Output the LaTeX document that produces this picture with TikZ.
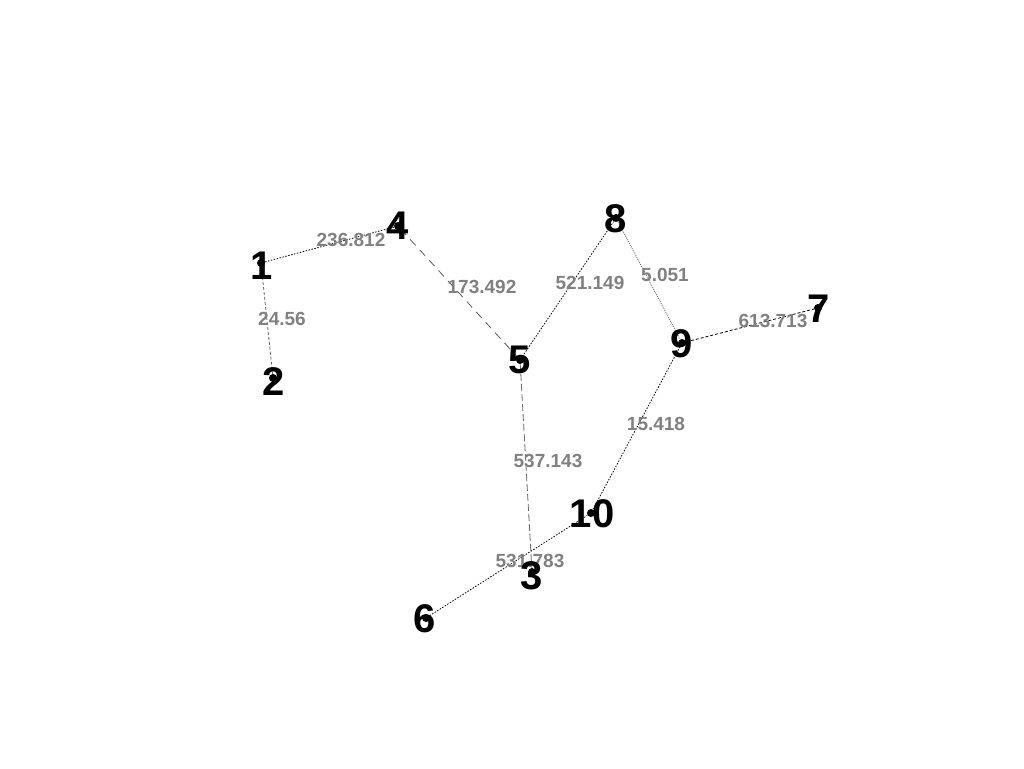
\documentclass[tikz,border=0pt]{standalone}
\usepackage{fontspec}
\setmainfont{Liberation Sans}
\begin{document}
\begin{tikzpicture}[x=1pt,y=-1pt,
  dot/.style={circle,fill=black,inner sep=0pt,minimum size=8pt},
  num/.style={font=\fontsize{40}{40}\selectfont\bfseries,inner sep=0pt,text=black},
  wlbl/.style={font=\fontsize{19}{19}\selectfont\bfseries,text=black!50,inner sep=0pt},
  dotblk/.style={line width=0.8pt,black,dash pattern=on 1.5pt off 1.5pt},
  dotgray/.style={line width=0.8pt,black!60,dash pattern=on 1pt off 1pt},
  dashshort/.style={line width=0.8pt,black!60,dash pattern=on 3pt off 2pt},
  dashlong/.style={line width=0.8pt,black!65,dash pattern=on 8pt off 6pt},
  dashmid/.style={line width=0.8pt,black!60,dash pattern=on 7pt off 3pt},
  dashblk/.style={line width=0.8pt,black,dash pattern=on 3pt off 2pt}]
\useasboundingbox (0,0) rectangle (1024,768);
% dots
\node[dot] (n1) at (261,263) {};
\node[dot] (n2) at (273,378) {};
\node[dot] (n3) at (532,572) {};
\node[dot] (n4) at (398,226) {};
\node[dot] (n5) at (520,360) {};
\node[dot] (n6) at (426,618) {};
\node[dot] (n7) at (818,308) {};
\node[dot] (n8) at (616,218) {};
\node[dot] (n9) at (682,343) {};
\node[dot] (n10) at (591,513) {};
% edges
\draw[dotblk] (n1) -- node[wlbl,xshift=21.5pt,yshift=4.5pt] (w14) {236.812} (n4);
\draw[dashshort] (n1) -- node[wlbl,xshift=15pt,yshift=1.5pt] (w12) {24.56} (n2);
\draw[dashlong] (n4) -- node[wlbl,xshift=23pt,yshift=6pt] (w45) {173.492} (n5);
\draw[dotblk] (n5) -- node[wlbl,xshift=22pt,yshift=6pt] (w58) {521.149} (n8);
\draw[dotgray] (n8) -- node[wlbl,xshift=16pt,yshift=5.5pt] (w89) {5.051} (n9);
\draw[dashblk] (n9) -- node[wlbl,xshift=23pt,yshift=4.5pt] (w97) {613.713} (n7);
\draw[dotblk] (n9) -- node[wlbl,xshift=19.5pt,yshift=4pt] (w910) {15.418} (n10);
\draw[dashmid] (n5) -- node[wlbl,xshift=22pt,yshift=5pt] (w53) {537.143} (n3);
\draw[dotblk] (n6) -- node[wlbl,xshift=21.5pt,yshift=4.5pt] (w610) {531.783} (n10);
% node labels
\node[num] (t1) at (262,266) {1};
\node[num] (t2) at (274,382) {2};
\node[num] (t3) at (532,576) {3};
\node[num] (t4) at (398,226) {4};
\node[num] (t5) at (520,360) {5};
\node[num] (t6) at (425,619) {6};
\node[num] (t7) at (819,309) {7};
\node[num] (t8) at (616,219) {8};
\node[num] (t9) at (682,344) {9};
\node[num] (t10) at (592,514) {10};
\end{tikzpicture}
\end{document}
